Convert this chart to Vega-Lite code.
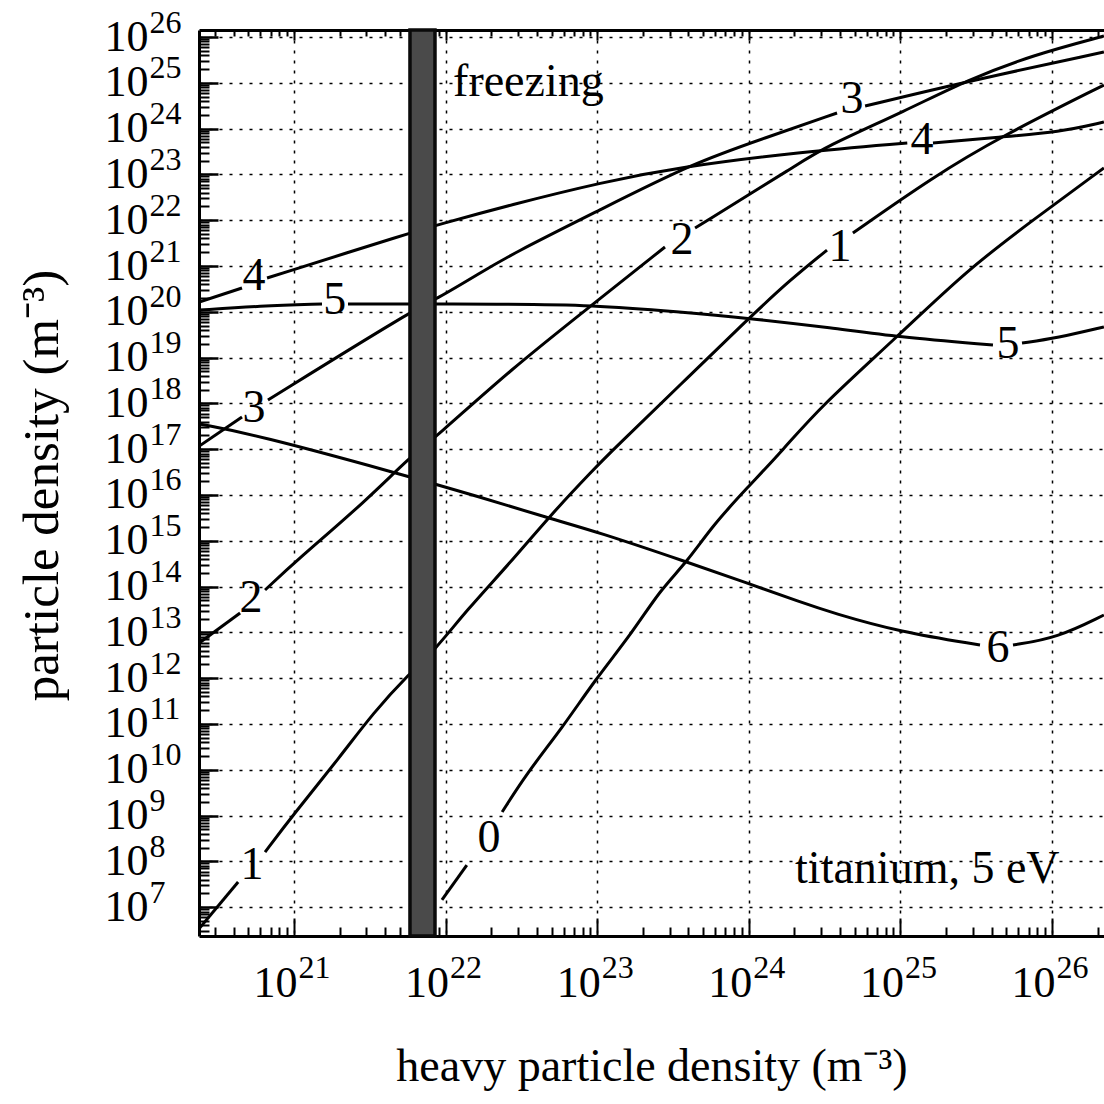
{
  "$schema": "https://vega.github.io/schema/vega-lite/v6.json",
  "width": 905,
  "height": 906,
  "autosize": {"type": "none"},
  "padding": {"left": 199, "top": 30, "right": 0, "bottom": 168},
  "background": "white",
  "config": {
    "view": {"stroke": null},
    "font": "Liberation Serif",
    "axis": {
      "labelFont": "Liberation Serif",
      "titleFont": "Liberation Serif",
      "labelColor": "black",
      "titleColor": "black",
      "domainColor": "black",
      "tickColor": "black",
      "labelFlush": false,
      "labelOverlap": false,
      "titleFontWeight": "normal"
    }
  },
  "datasets": {
    "curves": [
      {"seg": "0a", "x": 9.46e21, "y": 1.44e7},
      {"seg": "0a", "x": 1.38e22, "y": 8.34e7},
      {"seg": "0b", "x": 2.36e22, "y": 1.20e9},
      {"seg": "0b", "x": 3.44e22, "y": 8.51e9},
      {"seg": "0b", "x": 5.94e22, "y": 8.59e10},
      {"seg": "0b", "x": 9.66e22, "y": 9.14e11},
      {"seg": "0b", "x": 1.70e23, "y": 9.70e12},
      {"seg": "0b", "x": 2.60e23, "y": 8.43e13},
      {"seg": "0b", "x": 3.91e23, "y": 3.44e14},
      {"seg": "0b", "x": 5.81e23, "y": 2.21e15},
      {"seg": "0b", "x": 9.73e23, "y": 1.42e16},
      {"seg": "0b", "x": 1.68e24, "y": 9.62e16},
      {"seg": "0b", "x": 2.95e24, "y": 8.34e17},
      {"seg": "0b", "x": 9.51e24, "y": 2.82e19},
      {"seg": "0b", "x": 2.75e25, "y": 8.18e20},
      {"seg": "0b", "x": 7.50e25, "y": 1.01e22},
      {"seg": "0b", "x": 2.20e26, "y": 1.38e23},
      {"seg": "1a", "x": 2.37e20, "y": 3.4e6},
      {"seg": "1a", "x": 4.28e20, "y": 3.55e7},
      {"seg": "1b", "x": 6.44e20, "y": 1.60e8},
      {"seg": "1b", "x": 9.85e20, "y": 1.03e9},
      {"seg": "1b", "x": 2.01e21, "y": 1.90e10},
      {"seg": "1b", "x": 3.32e21, "y": 1.74e11},
      {"seg": "1b", "x": 5.82e21, "y": 1.30e12},
      {"seg": "1b", "x": 8.51e21, "y": 4.13e12},
      {"seg": "1b", "x": 1.38e22, "y": 3.08e13},
      {"seg": "1b", "x": 2.66e22, "y": 3.27e14},
      {"seg": "1b", "x": 4.73e22, "y": 3.15e15},
      {"seg": "1b", "x": 9.66e22, "y": 3.89e16},
      {"seg": "1b", "x": 1.27e23, "y": 9.62e16},
      {"seg": "1b", "x": 3.52e23, "y": 2.52e18},
      {"seg": "1b", "x": 1.02e24, "y": 7.69e19},
      {"seg": "1b", "x": 1.87e24, "y": 4.94e20},
      {"seg": "1b", "x": 3.28e24, "y": 2.23e21},
      {"seg": "1c", "x": 4.86e24, "y": 5.26e21},
      {"seg": "1c", "x": 1.64e25, "y": 8.77e22},
      {"seg": "1c", "x": 4.54e25, "y": 6.56e23},
      {"seg": "1c", "x": 2.20e26, "y": 8.95e24},
      {"seg": "2a", "x": 2.37e20, "y": 5.87e12},
      {"seg": "2a", "x": 4.41e20, "y": 2.65e13},
      {"seg": "2b", "x": 6.44e20, "y": 8.43e13},
      {"seg": "2b", "x": 1.05e21, "y": 3.81e14},
      {"seg": "2b", "x": 3.03e21, "y": 7.78e15},
      {"seg": "2b", "x": 5.82e21, "y": 6.76e16},
      {"seg": "2b", "x": 8.51e21, "y": 1.76e17},
      {"seg": "2b", "x": 2.66e22, "y": 5.36e18},
      {"seg": "2b", "x": 9.25e22, "y": 1.41e20},
      {"seg": "2b", "x": 2.80e23, "y": 2.60e21},
      {"seg": "2c", "x": 4.42e23, "y": 6.76e21},
      {"seg": "2c", "x": 2.18e24, "y": 1.77e23},
      {"seg": "2c", "x": 3.08e24, "y": 3.77e23},
      {"seg": "2c", "x": 1.11e25, "y": 2.55e24},
      {"seg": "2c", "x": 2.75e25, "y": 1.15e25},
      {"seg": "2c", "x": 7.50e25, "y": 4.05e25},
      {"seg": "2c", "x": 2.20e26, "y": 1.05e26},
      {"seg": "3a", "x": 2.37e20, "y": 1.17e17},
      {"seg": "3a", "x": 4.54e20, "y": 5.05e17},
      {"seg": "3b", "x": 6.73e20, "y": 1.19e18},
      {"seg": "3b", "x": 6.10e21, "y": 1.09e20},
      {"seg": "3b", "x": 8.51e21, "y": 1.81e20},
      {"seg": "3b", "x": 1.69e22, "y": 7.03e20},
      {"seg": "3b", "x": 2.66e22, "y": 1.74e21},
      {"seg": "3b", "x": 1.04e23, "y": 1.67e22},
      {"seg": "3b", "x": 4.29e23, "y": 1.77e23},
      {"seg": "3b", "x": 1.28e24, "y": 6.24e23},
      {"seg": "3b", "x": 3.82e24, "y": 2.19e24},
      {"seg": "3c", "x": 5.85e24, "y": 3.11e24},
      {"seg": "3c", "x": 2.47e25, "y": 9.91e24},
      {"seg": "3c", "x": 2.20e26, "y": 4.70e25},
      {"seg": "4a", "x": 2.37e20, "y": 1.64e20},
      {"seg": "4a", "x": 4.54e20, "y": 3.31e20},
      {"seg": "4b", "x": 6.64e20, "y": 5.47e20},
      {"seg": "4b", "x": 6.10e21, "y": 5.52e21},
      {"seg": "4b", "x": 8.77e21, "y": 7.85e21},
      {"seg": "4b", "x": 2.66e22, "y": 2.15e22},
      {"seg": "4b", "x": 1.09e23, "y": 6.82e22},
      {"seg": "4b", "x": 3.52e23, "y": 1.45e23},
      {"seg": "4b", "x": 2.18e24, "y": 3.08e23},
      {"seg": "4b", "x": 1.11e25, "y": 4.85e23},
      {"seg": "4c", "x": 1.64e25, "y": 4.85e23},
      {"seg": "4c", "x": 4.54e25, "y": 6.56e23},
      {"seg": "4c", "x": 1.13e26, "y": 8.43e23},
      {"seg": "4c", "x": 2.20e26, "y": 1.39e24},
      {"seg": "5a", "x": 2.37e20, "y": 1.09e20},
      {"seg": "5a", "x": 5.97e20, "y": 1.34e20},
      {"seg": "5a", "x": 1.53e21, "y": 1.48e20},
      {"seg": "5b", "x": 2.27e21, "y": 1.48e20},
      {"seg": "5b", "x": 2.66e22, "y": 1.48e20},
      {"seg": "5b", "x": 8.98e22, "y": 1.41e20},
      {"seg": "5b", "x": 3.52e23, "y": 9.91e19},
      {"seg": "5b", "x": 9.73e23, "y": 7.33e19},
      {"seg": "5b", "x": 3.59e24, "y": 4.43e19},
      {"seg": "5b", "x": 9.51e24, "y": 2.82e19},
      {"seg": "5b", "x": 4.08e25, "y": 1.88e19},
      {"seg": "5c", "x": 6.34e25, "y": 2.08e19},
      {"seg": "5c", "x": 1.08e26, "y": 2.68e19},
      {"seg": "5c", "x": 2.20e26, "y": 4.66e19},
      {"seg": "6a", "x": 2.37e20, "y": 3.55e17},
      {"seg": "6a", "x": 5.70e20, "y": 2.04e17},
      {"seg": "6a", "x": 4.78e21, "y": 3.02e16},
      {"seg": "6a", "x": 1.69e22, "y": 9.04e15},
      {"seg": "6a", "x": 4.73e22, "y": 3.15e15},
      {"seg": "6a", "x": 1.01e23, "y": 1.56e15},
      {"seg": "6a", "x": 3.91e23, "y": 3.44e14},
      {"seg": "6a", "x": 9.73e23, "y": 1.20e14},
      {"seg": "6a", "x": 2.18e24, "y": 4.61e13},
      {"seg": "6a", "x": 3.59e24, "y": 2.65e13},
      {"seg": "6a", "x": 9.93e24, "y": 1.02e13},
      {"seg": "6a", "x": 3.35e25, "y": 5.31e12},
      {"seg": "6b", "x": 5.53e25, "y": 5.31e12},
      {"seg": "6b", "x": 1.08e26, "y": 7.55e12},
      {"seg": "6b", "x": 2.20e26, "y": 2.40e13}
    ],
    "labelsA": [
      {"label": "0", "x": 1.93e22, "y": 3.24e8},
      {"label": "1", "x": 5.28e20, "y": 8.34e7},
      {"label": "1", "x": 4.00e24, "y": 2.60e21},
      {"label": "2", "x": 5.20e20, "y": 5.64e13},
      {"label": "2", "x": 3.62e23, "y": 3.70e21},
      {"label": "3", "x": 5.45e20, "y": 7.94e17},
      {"label": "3", "x": 4.80e24, "y": 4.43e24}
    ],
    "labelsB": [
      {"label": "4", "x": 5.45e20, "y": 6.05e20},
      {"label": "4", "x": 1.39e25, "y": 5.64e23},
      {"label": "5", "x": 1.86e21, "y": 1.81e20},
      {"label": "5", "x": 5.13e25, "y": 1.98e19},
      {"label": "6", "x": 4.41e25, "y": 4.56e12}
    ],
    "freeze": [
      {"x1": 5.82e21, "x2": 8.51e21}
    ],
    "notes1": [
      {"text": "freezing", "x": 1.12e22, "y": 5.15e24}
    ],
    "notes2": [
      {"text": "titanium, 5 eV", "x": 2.02e24, "y": 3.37e7}
    ]
  },
  "layer": [
    {
      "data": {"name": "curves"},
      "mark": {"type": "line", "stroke": "black", "strokeWidth": 3, "clip": true, "interpolate": "basis"},
      "encoding": {
        "x": {
          "field": "x", "type": "quantitative",
          "scale": {"type": "log", "domain": [2.362e20, 2.203e26], "nice": false},
          "axis": {
            "orient": "bottom",
            "values": [1e21, 1e22, 1e23, 1e24, 1e25, 1e26],
            "labelExpr": "'10'",
            "labelFontSize": 44,
            "labelAlign": "right",
            "labelBaseline": "middle",
            "labelOffset": 3,
            "labelPadding": 47,
            "ticks": false,
            "domain": true,
            "domainWidth": 3,
            "grid": true,
            "gridDash": [3, 7],
            "gridWidth": 1.5,
            "gridColor": "black",
            "title": "heavy particle density (m⁻³)",
            "titleFontSize": 46,
            "titleY": 144,
            "titleBaseline": "alphabetic"
          }
        },
        "y": {
          "field": "y", "type": "quantitative",
          "scale": {"type": "log", "domain": [2.35e6, 1.422e26], "nice": false},
          "axis": {
            "orient": "left",
            "values": [1e7, 1e8, 1e9, 1e10, 1e11, 1e12, 1e13, 1e14, 1e15, 1e16, 1e17, 1e18, 1e19, 1e20, 1e21, 1e22, 1e23, 1e24, 1e25, 1e26],
            "labelExpr": "'10'",
            "labelFontSize": 44,
            "labelAlign": "right",
            "labelBaseline": "middle",
            "labelPadding": 51,
            "ticks": false,
            "domain": true,
            "domainWidth": 3,
            "grid": true,
            "gridDash": [3, 7],
            "gridWidth": 1.5,
            "gridColor": "black",
            "title": "particle density (m⁻³)",
            "titleFontSize": 51,
            "titleAngle": -90,
            "titleX": -142,
            "titleY": 455,
            "titleAlign": "center",
            "titleBaseline": "alphabetic"
          }
        },
        "detail": {"field": "seg"}
      }
    },
    {
      "data": {"name": "freeze"},
      "mark": {"type": "rect", "fill": "#4a4a4a", "stroke": "#0a0a0a", "strokeWidth": 3.5},
      "encoding": {
        "x": {
          "field": "x1", "type": "quantitative",
          "scale": {"type": "log", "domain": [2.362e20, 2.203e26], "nice": false},
          "axis": {
            "orient": "bottom",
            "values": [3e20, 4e20, 5e20, 6e20, 7e20, 8e20, 9e20, 2e21, 3e21, 4e21, 5e21, 6e21, 7e21, 8e21, 9e21, 2e22, 3e22, 4e22, 5e22, 6e22, 7e22, 8e22, 9e22, 2e23, 3e23, 4e23, 5e23, 6e23, 7e23, 8e23, 9e23, 2e24, 3e24, 4e24, 5e24, 6e24, 7e24, 8e24, 9e24, 2e25, 3e25, 4e25, 5e25, 6e25, 7e25, 8e25, 9e25, 2e26],
            "labels": false,
            "ticks": true,
            "tickSize": -9,
            "tickWidth": 2,
            "domain": false,
            "grid": false,
            "title": null
          }
        },
        "x2": {"field": "x2"}
      }
    },
    {
      "data": {"name": "labelsA"},
      "mark": {"type": "text", "font": "Liberation Serif", "fontSize": 46, "align": "center", "baseline": "middle", "color": "black"},
      "encoding": {
        "x": {
          "field": "x", "type": "quantitative",
          "scale": {"type": "log", "domain": [2.362e20, 2.203e26], "nice": false},
          "axis": {
            "orient": "bottom",
            "values": [1e21, 1e22, 1e23, 1e24, 1e25, 1e26],
            "labelExpr": "'' + round(log(datum.value) / LN10)",
            "labelFontSize": 32,
            "labelAlign": "left",
            "labelBaseline": "middle",
            "labelOffset": 4,
            "labelPadding": 31,
            "ticks": false,
            "domain": false,
            "grid": false,
            "title": null
          }
        },
        "y": {
          "field": "y", "type": "quantitative",
          "scale": {"type": "log", "domain": [2.35e6, 1.422e26], "nice": false},
          "axis": {
            "orient": "left",
            "values": [1e7, 1e8, 1e9, 1e10, 1e11, 1e12, 1e13, 1e14, 1e15, 1e16, 1e17, 1e18, 1e19, 1e20, 1e21, 1e22, 1e23, 1e24, 1e25, 1e26],
            "labelExpr": "'' + round(log(datum.value) / LN10)",
            "labelFontSize": 32,
            "labelAlign": "left",
            "labelBaseline": "middle",
            "labelOffset": -15,
            "labelPadding": 50,
            "ticks": false,
            "domain": false,
            "grid": false,
            "title": null
          }
        },
        "text": {"field": "label"}
      }
    },
    {
      "data": {"name": "notes1"},
      "mark": {"type": "text", "font": "Liberation Serif", "fontSize": 46, "align": "left", "baseline": "alphabetic", "color": "black"},
      "encoding": {
        "x": {
          "field": "x", "type": "quantitative",
          "scale": {"type": "log", "domain": [2.362e20, 2.203e26], "nice": false},
          "axis": {
            "orient": "bottom",
            "values": [1e21, 1e22, 1e23, 1e24, 1e25, 1e26],
            "labels": false,
            "ticks": true,
            "tickSize": -18,
            "tickWidth": 2,
            "domain": false,
            "grid": false,
            "title": null
          }
        },
        "y": {
          "field": "y", "type": "quantitative",
          "scale": {"type": "log", "domain": [2.35e6, 1.422e26], "nice": false},
          "axis": {
            "orient": "left",
            "values": [1e7, 1e8, 1e9, 1e10, 1e11, 1e12, 1e13, 1e14, 1e15, 1e16, 1e17, 1e18, 1e19, 1e20, 1e21, 1e22, 1e23, 1e24, 1e25, 1e26],
            "labels": false,
            "ticks": true,
            "tickSize": -19,
            "tickWidth": 2.5,
            "domain": false,
            "grid": false,
            "title": null
          }
        },
        "text": {"field": "text"}
      }
    },
    {
      "data": {"name": "notes2"},
      "mark": {"type": "text", "font": "Liberation Serif", "fontSize": 46, "align": "left", "baseline": "alphabetic", "color": "black"},
      "encoding": {
        "x": {
          "field": "x", "type": "quantitative",
          "scale": {"type": "log", "domain": [2.362e20, 2.203e26], "nice": false},
          "axis": {
            "orient": "top",
            "values": [1e21, 1e22, 1e23, 1e24, 1e25, 1e26],
            "labels": false,
            "ticks": true,
            "tickSize": -10,
            "tickWidth": 2,
            "domain": true,
            "domainWidth": 3,
            "grid": false,
            "title": null
          }
        },
        "y": {
          "field": "y", "type": "quantitative",
          "scale": {"type": "log", "domain": [2.35e6, 1.422e26], "nice": false},
          "axis": {
            "orient": "left",
            "values": [3e6, 4e6, 5e6, 6e6, 7e6, 8e6, 9e6, 2e7, 3e7, 4e7, 5e7, 6e7, 7e7, 8e7, 9e7, 2e8, 3e8, 4e8, 5e8, 6e8, 7e8, 8e8, 9e8, 2e9, 3e9, 4e9, 5e9, 6e9, 7e9, 8e9, 9e9, 2e10, 3e10, 4e10, 5e10, 6e10, 7e10, 8e10, 9e10, 2e11, 3e11, 4e11, 5e11, 6e11, 7e11, 8e11, 9e11, 2e12, 3e12, 4e12, 5e12, 6e12, 7e12, 8e12, 9e12, 2e13, 3e13, 4e13, 5e13, 6e13, 7e13, 8e13, 9e13, 2e14, 3e14, 4e14, 5e14, 6e14, 7e14, 8e14, 9e14, 2e15, 3e15, 4e15, 5e15, 6e15, 7e15, 8e15, 9e15, 2e16, 3e16, 4e16, 5e16, 6e16, 7e16, 8e16, 9e16, 2e17, 3e17, 4e17, 5e17, 6e17, 7e17, 8e17, 9e17, 2e18, 3e18, 4e18, 5e18, 6e18, 7e18, 8e18, 9e18, 2e19, 3e19, 4e19, 5e19, 6e19, 7e19, 8e19, 9e19, 2e20, 3e20, 4e20, 5e20, 6e20, 7e20, 8e20, 9e20, 2e21, 3e21, 4e21, 5e21, 6e21, 7e21, 8e21, 9e21, 2e22, 3e22, 4e22, 5e22, 6e22, 7e22, 8e22, 9e22, 2e23, 3e23, 4e23, 5e23, 6e23, 7e23, 8e23, 9e23, 2e24, 3e24, 4e24, 5e24, 6e24, 7e24, 8e24, 9e24, 2e25, 3e25, 4e25, 5e25, 6e25, 7e25, 8e25, 9e25],
            "labels": false,
            "ticks": true,
            "tickSize": -10,
            "tickWidth": 2,
            "domain": false,
            "grid": false,
            "title": null
          }
        },
        "text": {"field": "text"}
      }
    },
    {
      "data": {"name": "labelsB"},
      "mark": {"type": "text", "font": "Liberation Serif", "fontSize": 46, "align": "center", "baseline": "middle", "color": "black"},
      "encoding": {
        "x": {
          "field": "x", "type": "quantitative",
          "scale": {"type": "log", "domain": [2.362e20, 2.203e26], "nice": false},
          "axis": {
            "orient": "top",
            "values": [3e20, 4e20, 5e20, 6e20, 7e20, 8e20, 9e20, 2e21, 3e21, 4e21, 5e21, 6e21, 7e21, 8e21, 9e21, 2e22, 3e22, 4e22, 5e22, 6e22, 7e22, 8e22, 9e22, 2e23, 3e23, 4e23, 5e23, 6e23, 7e23, 8e23, 9e23, 2e24, 3e24, 4e24, 5e24, 6e24, 7e24, 8e24, 9e24, 2e25, 3e25, 4e25, 5e25, 6e25, 7e25, 8e25, 9e25, 2e26],
            "labels": false,
            "ticks": true,
            "tickSize": -6,
            "tickWidth": 2,
            "domain": false,
            "grid": false,
            "title": null
          }
        },
        "y": {
          "field": "y", "type": "quantitative",
          "scale": {"type": "log", "domain": [2.35e6, 1.422e26], "nice": false},
          "axis": null
        },
        "text": {"field": "label"}
      }
    }
  ],
  "resolve": {"axis": {"x": "independent", "y": "independent"}}
}
